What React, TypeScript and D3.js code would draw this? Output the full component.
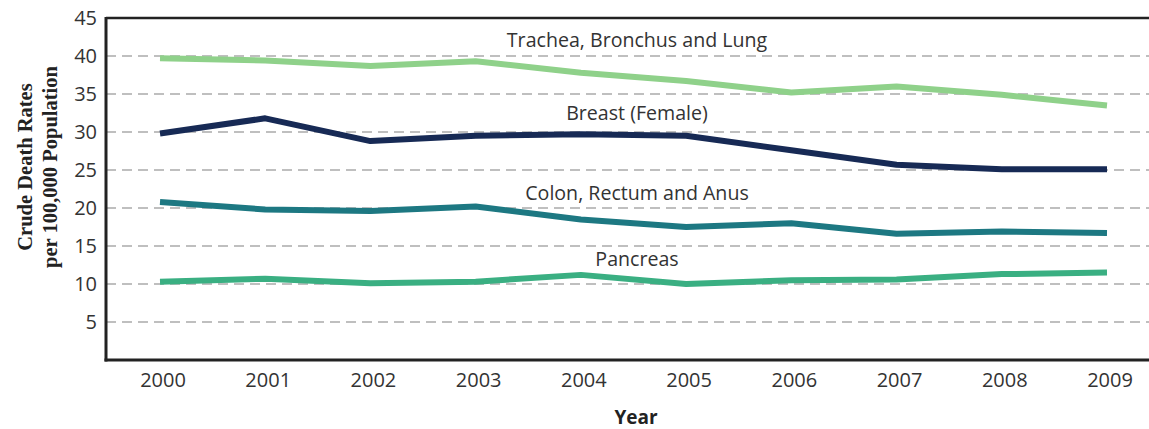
import React from "react";
import * as d3 from "d3";

const years = [2000, 2001, 2002, 2003, 2004, 2005, 2006, 2007, 2008, 2009];
const lung = [39.7, 39.4, 38.7, 39.3, 37.8, 36.7, 35.2, 36.0, 34.9, 33.5];
const breast = [29.8, 31.8, 28.8, 29.5, 29.7, 29.5, 27.6, 25.7, 25.1, 25.1];
const colon = [20.8, 19.8, 19.6, 20.2, 18.5, 17.5, 18.0, 16.6, 16.9, 16.7];
const pancreas = [10.3, 10.7, 10.1, 10.3, 11.2, 10.0, 10.5, 10.6, 11.3, 11.5];
const seriesNames = ["Trachea, Bronchus and Lung", "Breast (Female)", "Colon, Rectum and Anus", "Pancreas"];
const yTicks = [5, 10, 15, 20, 25, 30, 35, 40, 45];

const W = 1149;
const H = 429;
const left = 106;
const top = 18;
const bottom = 360;

export default function App() {
  const x = d3.scaleLinear().domain([2000, 2009]).range([160, 1107]);
  const y = d3.scaleLinear().domain([0, 45]).range([bottom, top]);
  const line = d3
    .line<[number, number]>()
    .x((d) => x(d[0]))
    .y((d) => y(d[1]))
    .curve(d3.curveLinear);

  const series = [
    { name: seriesNames[0], values: lung, color: "#8fd18a", labelY: 47 },
    { name: seriesNames[1], values: breast, color: "#172a55", labelY: 120 },
    { name: seriesNames[2], values: colon, color: "#1d7882", labelY: 200 },
    { name: seriesNames[3], values: pancreas, color: "#3aaf82", labelY: 266 },
  ];

  const tickFont = "'Open Sans', Lato, sans-serif";

  return (
    <svg
      width={W}
      height={H}
      style={{ position: "absolute", left: 0, top: 0, background: "#fff" }}
    >
      {yTicks
        .filter((t) => t !== 45)
        .map((t) => (
          <line
            key={"g" + t}
            x1={left}
            x2={W}
            y1={y(t)}
            y2={y(t)}
            stroke="#aaaaaa"
            strokeWidth={1.5}
            strokeDasharray="10,6"
          />
        ))}
      {yTicks.map((t) => (
        <text
          key={"t" + t}
          x={97}
          y={y(t)}
          dy="0.36em"
          textAnchor="end"
          fontFamily={tickFont}
          fontSize={20}
          fill="#333"
        >
          {t}
        </text>
      ))}
      {years.map((yr) => (
        <text
          key={"x" + yr}
          x={x(yr) + 3}
          y={387}
          textAnchor="middle"
          fontFamily={tickFont}
          fontSize={20}
          fill="#333"
        >
          {yr}
        </text>
      ))}
      {series.map((s) => (
        <path
          key={s.name}
          d={line(years.map((yr, i) => [yr, s.values[i]]) as [number, number][]) || ""}
          fill="none"
          stroke={s.color}
          strokeWidth={6}
          strokeLinejoin="round"
        />
      ))}
      {series.map((s) => (
        <text
          key={"l" + s.name}
          x={637}
          y={s.labelY}
          textAnchor="middle"
          fontFamily={tickFont}
          fontSize={19.6}
          fill="#333"
        >
          {s.name}
        </text>
      ))}
      <line x1={left} x2={W} y1={top} y2={top} stroke="#222" strokeWidth={2.5} />
      <line x1={left} x2={left} y1={top - 1} y2={bottom + 1.5} stroke="#222" strokeWidth={3} />
      <line x1={left - 1.5} x2={W} y1={bottom} y2={bottom} stroke="#222" strokeWidth={3} />
      <g transform="translate(32,167) rotate(-90)">
        <text textAnchor="middle" fontFamily="'Liberation Serif', serif" fontWeight="bold" fontSize={20.5} fill="#222">
          Crude Death Rates
        </text>
      </g>
      <g transform="translate(57,167) rotate(-90)">
        <text textAnchor="middle" fontFamily="'Liberation Serif', serif" fontWeight="bold" fontSize={20.5} fill="#222">
          per 100,000 Population
        </text>
      </g>
      <text x={636} y={424} textAnchor="middle" fontFamily={tickFont} fontWeight="bold" fontSize={19} fill="#222">
        Year
      </text>
    </svg>
  );
}
